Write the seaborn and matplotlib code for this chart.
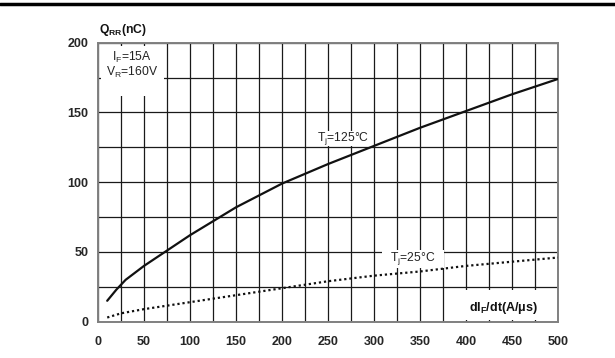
import matplotlib
matplotlib.use("Agg")
import matplotlib.pyplot as plt
import seaborn as sns
import pandas as pd
from matplotlib.patches import Rectangle
from matplotlib.lines import Line2D

# ---- data ----
x_hot = [10, 20, 30, 50, 75, 100, 150, 200, 250, 300, 350, 400, 450, 500]
q_hot = [15, 23, 30, 40, 51, 62, 82, 99, 113, 126, 139, 151, 163, 174]
x_cold = [10, 25, 50, 100, 150, 200, 250, 300, 350, 400, 450, 500]
q_cold = [3, 6, 9, 14, 19, 24, 29, 33, 36, 40, 43, 46]
x_ticks = [0, 50, 100, 150, 200, 250, 300, 350, 400, 450, 500]
y_ticks = [0, 50, 100, 150, 200]

sns.set_style("white")
plt.rcParams['font.family'] = ['Liberation Sans', 'DejaVu Sans']
plt.rcParams['mathtext.fontset'] = 'custom'
plt.rcParams['mathtext.rm'] = 'Liberation Sans'
plt.rcParams['mathtext.it'] = 'Liberation Sans:italic'
plt.rcParams['mathtext.bf'] = 'Liberation Sans:bold'

fig = plt.figure(figsize=(6.15, 3.58), dpi=100)
ax = fig.add_axes([98/615, 1-321.7/358, (558-98)/615, (321.7-42.7)/358])

df_hot = pd.DataFrame({"x": x_hot, "q": q_hot})
df_cold = pd.DataFrame({"x": x_cold, "q": q_cold})
sns.lineplot(data=df_hot, x="x", y="q", ax=ax, color="#111111", lw=1.6, zorder=3)
sns.lineplot(data=df_cold, x="x", y="q", ax=ax, color="#111111", lw=1.6,
             linestyle=(0, (1, 1.3)), zorder=3)

ax.set_xlim(0, 500)
ax.set_ylim(0, 200)
ax.set_xticks(x_ticks)
ax.set_yticks(y_ticks)
ax.set_xticks(range(0, 501, 25), minor=True)
ax.set_yticks(range(0, 201, 25), minor=True)
ax.set_xticklabels([str(v) for v in x_ticks], fontweight="bold", fontsize=9)
ax.set_yticklabels([str(v) for v in y_ticks], fontweight="bold", fontsize=9)
ax.tick_params(axis="both", which="both", length=0)
ax.tick_params(axis="x", pad=10)
ax.tick_params(axis="y", pad=7)
ax.set_xlabel("")
ax.set_ylabel("")
ax.set_axisbelow(True)
ax.grid(True, which="both", color="#1a1a1a", lw=0.9)
for s in ax.spines.values():
    s.set_color("#808080")
    s.set_linewidth(1.4)

# white label boxes
boxes = [(3, 162, 69, 35.5), (236, 126, 60, 10.5), (309, 38.5, 67, 13), (380, 1.5, 119, 21)]
for (bx, by, bw, bh) in boxes:
    ax.add_patch(Rectangle((bx, by), bw, bh, facecolor="white", edgecolor="none", zorder=1))

fs = 8.7
ax.text(37, 189.5, r"I$_\mathrm{F}$=15A", ha="center", va="center", fontsize=fs, color="#222222")
ax.text(37, 178.5, r"V$_\mathrm{R}$=160V", ha="center", va="center", fontsize=fs, color="#222222")
ax.text(266, 131, r"T$_\mathrm{j}$=125°C", ha="center", va="center", fontsize=fs, color="#222222")
ax.text(342, 45, r"T$_\mathrm{j}$=25°C", ha="center", va="center", fontsize=fs, color="#222222")
ax.text(441, 10, r"dI$_\mathbf{F}$/dt(A/μs)", ha="center", va="center", fontsize=9,
        fontweight="bold", color="#111111")

fig.text(99/615, 1-30/358, r"$\mathbf{Q_{RR}}$(nC)", ha="left", va="center",
         fontsize=8.7, fontweight="bold", color="#111111")

fig.add_artist(Line2D([0, 1], [1-4/358, 1-4/358], color="black", lw=2.5,
                      transform=fig.transFigure))

fig.savefig("out.png", dpi=100)
